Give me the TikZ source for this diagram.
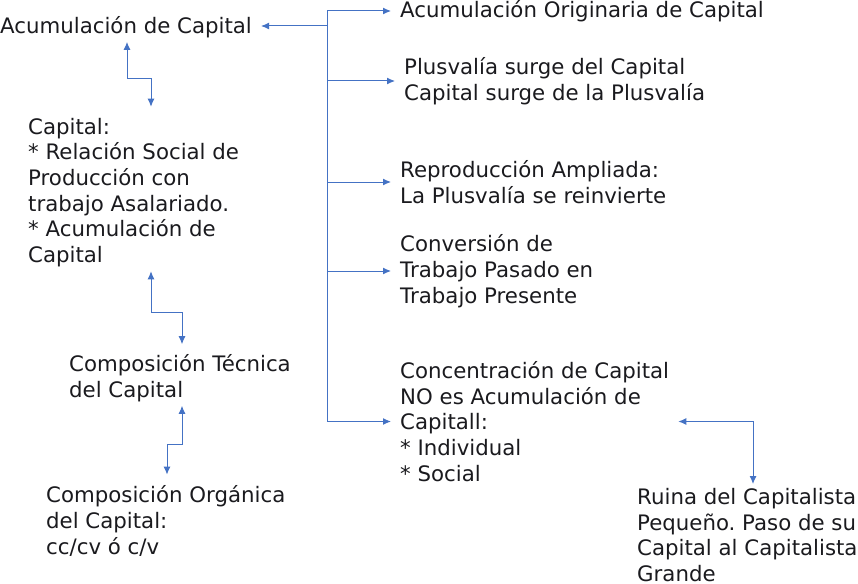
\documentclass[tikz,border=0pt]{standalone}
\usepackage{fontspec}
\setmainfont{DejaVu Sans}
\usetikzlibrary{arrows.meta}
\definecolor{linkblue}{RGB}{68,114,196}
\definecolor{ink}{RGB}{26,26,30}
\frenchspacing
\begin{document}
\begin{tikzpicture}[x=1pt,y=-1pt,>={Latex[length=8pt,width=7pt]}]
		\tikzstyle{txt} =[anchor=west, align=left, inner xsep=9pt, inner ysep=4pt, text=ink, font=\fontsize{21.3}{25.7}\selectfont];
		\tikzstyle{link} =[draw=linkblue, line width=1pt];
		\useasboundingbox (0,0) rectangle (858,583);

		\node[txt] (acum) at (-9,27) {Acumulación de Capital};
		\node[txt] (cap) at (19,192.5) {Capital:\\* Relación Social de\\Producción con\\trabajo Asalariado.\\* Acumulación de\\Capital};
		\node[txt] (tec) at (60,378) {Composición Técnica\\del Capital};
		\node[txt] (org) at (37,521) {Composición Orgánica\\del Capital:\\cc/cv ó c/v};

		\node[txt] (orig) at (391,11) {Acumulación Originaria de Capital};
		\node[txt] (plusv) at (395,81) {Plusvalía surge del Capital\\Capital surge de la Plusvalía};
		\node[txt] (repro) at (391,182) {Reproducción Ampliada:\\La Plusvalía se reinvierte};
		\node[txt] (conv) at (391,271) {Conversión de\\Trabajo Pasado en\\Trabajo Presente};
		\node[txt] (conc) at (391,421.5) {Concentración de Capital\\NO es Acumulación de\\Capitall:\\* Individual\\* Social};
		\node[txt] (ruina) at (628,535) {Ruina del Capitalista\\Pequeño. Paso de su\\Capital al Capitalista\\Grande};

		\coordinate (hub) at (327,26);

		\draw[->,link] (hub) -- (acum.east |- hub);
		\draw[->,link] (hub) |- (orig.west);
		\draw[->,link] (hub) |- (plusv.west);
		\draw[->,link] (hub) |- (repro.west);
		\draw[->,link] (hub) |- (conv.west);
		\draw[->,link] (hub) |- (conc.west);

		\draw[<->,link,shorten >=7pt] (acum.south -| 127,0) |- (151,79) -- (cap.north -| 151,0);
		\draw[<->,link,shorten >=6pt] (cap.south -| 151,0) |- (182,312) -- (tec.north -| 182,0);
		\draw[<->,link,shorten >=7pt] (tec.south -| 182,0) |- (167,444) -- (org.north -| 167,0);
		\draw[<->,link] (conc.east) -| (ruina.north -| 753,0);
	\end{tikzpicture}
\end{document}
